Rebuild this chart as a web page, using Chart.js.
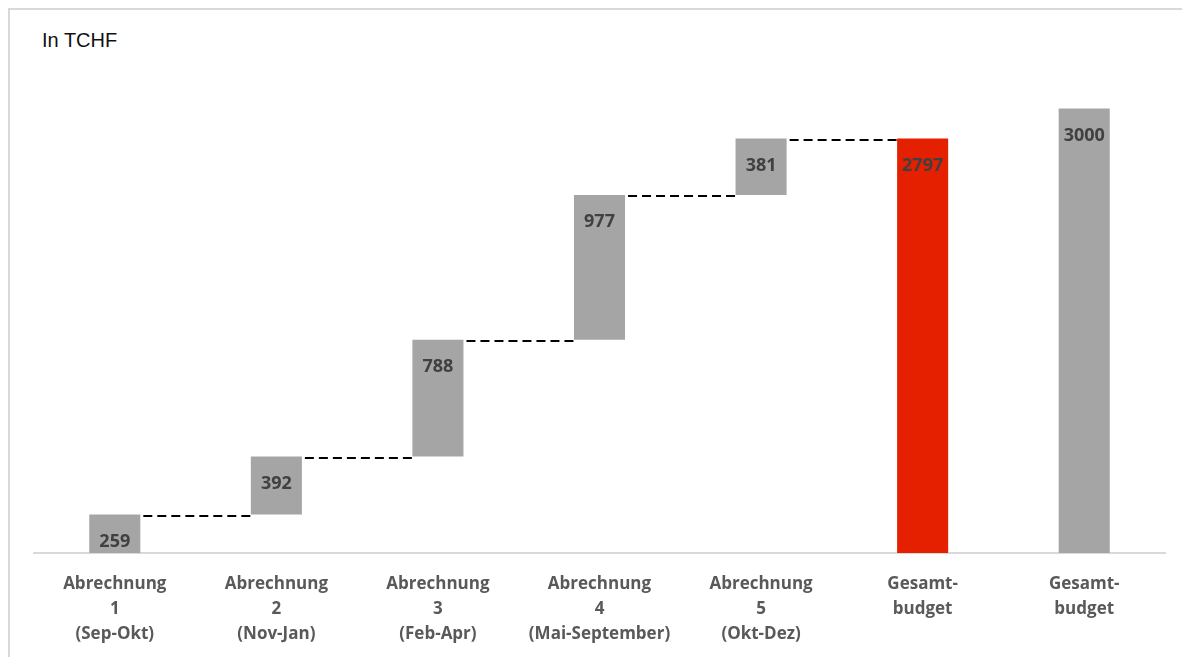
<!DOCTYPE html>
<html>
<head>
<meta charset="utf-8">
<script src="https://cdn.jsdelivr.net/npm/chart.js@4"></script>
<style>
  body { margin: 0; background: #fff; }
  #wrap { position: relative; width: 1182px; height: 657px; overflow: hidden; }
  #frame { position: absolute; left: 8px; top: 8px; right: -10px; bottom: -10px;
           border-top: 2px solid #d9d9d9; border-left: 2px solid #d9d9d9; }
  #unit { position: absolute; left: 42px; top: 29px; font: 20px "Liberation Sans", Arial, sans-serif; color: #111; }
  canvas { position: absolute; left: 0; top: 0; }
</style>
</head>
<body>
<div id="wrap">
  <div id="frame"></div>
  <div id="unit">In TCHF</div>
  <canvas id="chart" width="1182" height="657"></canvas>
</div>
<script>
// Waterfall data (TCHF)
const categories = [
  ['Abrechnung', '1', '(Sep-Okt)'],
  ['Abrechnung', '2', '(Nov-Jan)'],
  ['Abrechnung', '3', '(Feb-Apr)'],
  ['Abrechnung', '4', '(Mai-September)'],
  ['Abrechnung', '5', '(Okt-Dez)'],
  ['Gesamt-', 'budget'],
  ['Gesamt-', 'budget']
];
const steps = [259, 392, 788, 977, 381];
const totalSpent = 2797;
const budget = 3000;

const GREY = '#a5a5a5';
const RED = '#e42000';

// build floating ranges from the steps
const ranges = [];
const levels = [];
let run = 0;
steps.forEach(v => {
  ranges.push([run, run + v]);
  run += v;
  levels.push(run);
});
ranges.push([0, totalSpent]);
ranges.push([0, budget]);
const labels = steps.concat([totalSpent, budget]);
const colors = [GREY, GREY, GREY, GREY, GREY, RED, GREY];

const connectors = {
  id: 'connectors',
  afterDatasetsDraw(chart) {
    const ctx = chart.ctx;
    const bars = chart.getDatasetMeta(0).data;
    const y = chart.scales.y;
    ctx.save();
    ctx.strokeStyle = '#000';
    ctx.lineWidth = 2;
    ctx.setLineDash([9, 5]);
    for (let i = 0; i < levels.length; i++) {
      const a = bars[i], b = bars[i + 1];
      const py = Math.round(y.getPixelForValue(levels[i])) + 1;
      ctx.beginPath();
      ctx.moveTo(a.x + a.width / 2 + 3, py);
      ctx.lineTo(b.x - b.width / 2, py);
      ctx.stroke();
    }
    ctx.restore();
  }
};

const valueLabels = {
  id: 'valueLabels',
  afterDatasetsDraw(chart) {
    const ctx = chart.ctx;
    const bars = chart.getDatasetMeta(0).data;
    ctx.save();
    ctx.font = 'bold 18px "Open Sans", sans-serif';
    ctx.fillStyle = '#404040';
    ctx.textAlign = 'center';
    ctx.textBaseline = 'middle';
    bars.forEach((bar, i) => {
      const top = Math.min(bar.y, bar.base);
      ctx.fillText(String(labels[i]), bar.x, top + 27);
    });
    ctx.restore();
  }
};

new Chart(document.getElementById('chart'), {
  type: 'bar',
  data: {
    labels: categories,
    datasets: [{
      data: ranges,
      backgroundColor: colors,
      borderWidth: 0,
      borderSkipped: false,
      categoryPercentage: 1,
      barPercentage: 0.316
    }]
  },
  options: {
    responsive: false,
    animation: false,
    layout: { padding: { left: 34, right: 17, top: 64, bottom: 14 } },
    plugins: {
      legend: { display: false },
      tooltip: { enabled: false }
    },
    scales: {
      x: {
        grid: { display: false, drawTicks: false },
        border: { display: true, color: '#d9d9d9', width: 2 },
        ticks: {
          color: '#595959',
          padding: 19,
          maxRotation: 0,
          autoSkip: false,
          font: { family: '"Open Sans", sans-serif', size: 17, weight: 'bold', lineHeight: 1.47 }
        },
        afterFit(scale) { scale.height = 90; }
      },
      y: {
        display: false,
        min: 0,
        max: 3300
      }
    }
  },
  plugins: [connectors, valueLabels]
});
</script>
</body>
</html>
